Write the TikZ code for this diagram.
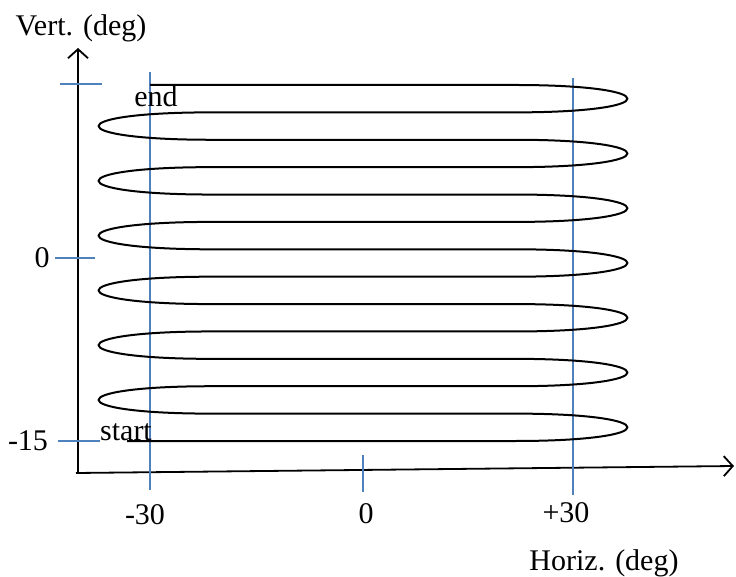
\documentclass[tikz,border=0pt]{standalone}
\usepackage{fontspec}
\setmainfont{Liberation Serif}
\usetikzlibrary{arrows.meta}

\begin{document}
\begin{tikzpicture}[
		x=1pt, y=-1pt,
		axis/.style={line width=1.8pt, black},
		axisarrow/.style={axis, -{Straight Barb[length=9pt, width=20pt, line width=1.8pt]}},
		guide/.style={line width=1.7pt, color=guideblue},
		sweep/.style={line width=2pt, black, line join=round},
		lbl/.style={font=\fontsize{30}{34}\selectfont, inner sep=0pt, anchor=base},
		]
		\definecolor{guideblue}{RGB}{79,129,189}
		\useasboundingbox (0,0) rectangle (736,577);
		
		% axes
		\coordinate (origin) at (78,474);
		\coordinate (ytip) at (78,48);
		\coordinate (xstart) at (76,473);
		\coordinate (xtip) at (734,466);
		\draw[axisarrow] (origin) -- (ytip);
		\draw[axisarrow] (xstart) -- (xtip);
		
		% blue guide lines and ticks
		\draw[guide] (60,84) -- (102,84);
		\draw[guide] (55,258) -- (95,258);
		\draw[guide] (58,441) -- (100,441);
		\draw[guide] (150,72) -- (150,490);
		\draw[guide] (573,78) -- (573,495);
		\draw[guide] (363,455) -- (363,492);
		
		% raster sweep
		\def\ylev#1{441-#1*27.385}
		\draw[sweep] (127,441)
		\foreach \k in {0,2,...,10} {
			-- (515,{\ylev{\k}}) .. controls +(150,0) and +(150,0) .. (515,{\ylev{(\k+1)}})
			-- (211,{\ylev{(\k+1)}}) .. controls +(-150,0) and +(-150,0) .. (211,{\ylev{(\k+2)}})
		}
		-- (515,{\ylev{12}}) .. controls +(150,0) and +(150,0) .. (515,{\ylev{13}})
		-- (150,{\ylev{13}});
		
		% labels
		\node[lbl] (vlabel) at (81,36) {Vert. (deg)};
		\node[lbl] (hlabel) at (604,570) {Horiz. (deg)};
		\node[lbl] (vzero) at (42,268) {0};
		\node[lbl] (vmin) at (28,450) {-15};
		\node[lbl] (hmin) at (145,524) {-30};
		\node[lbl] (hzero) at (366,523) {0};
		\node[lbl] (hmax) at (566,522) {+30};
		\node[lbl] (endlbl) at (156,107) {end};
		\node[lbl] (startlbl) at (126,440) {start};
	\end{tikzpicture}
\end{document}
